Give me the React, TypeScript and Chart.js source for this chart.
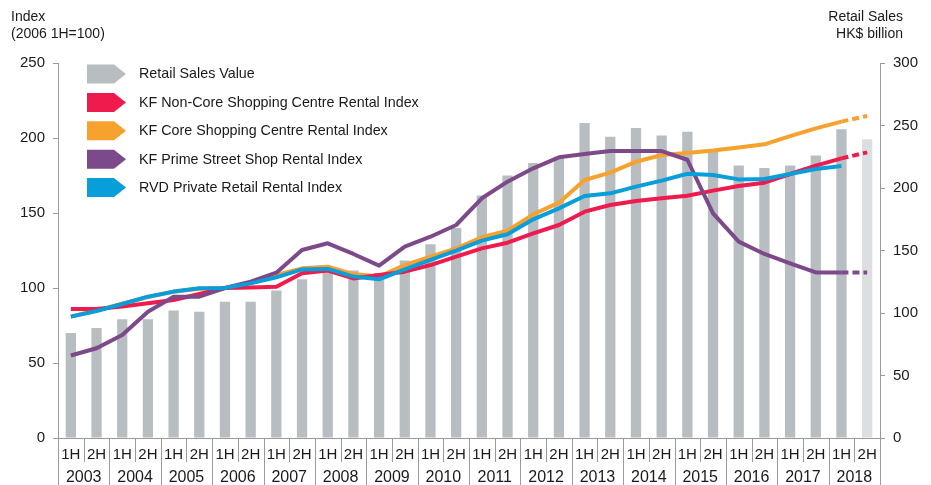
import React, { useEffect, useRef } from 'react';
import { Chart, registerables } from 'chart.js';

Chart.register(...registerables);

const years = ['2003', '2004', '2005', '2006', '2007', '2008', '2009', '2010', '2011', '2012', '2013', '2014', '2015', '2016', '2017', '2018'];
const halves = ['1H', '2H'];
const categories = years.flatMap((y) => halves.map((h) => `${y} ${h}`));

// Retail sales value, HK$ billion (right axis)
const retailSales = [84, 88, 95, 95, 102, 101, 109, 109, 118, 127, 137, 134, 132, 142, 155, 168, 194, 210, 220, 225, 252, 241, 248, 242, 245, 229, 218, 216, 218, 226, 247, 239];
// Indexes, 2006 1H = 100 (left axis)
const nonCoreIndex = [86, 86, 87.6, 89.8, 92, 96, 100, 100.3, 100.9, 109.8, 111.6, 106.4, 108.7, 110.9, 115.3, 120.9, 126.4, 130.2, 136.4, 142, 150.9, 155.3, 158, 159.8, 161.5, 164.9, 168, 170.2, 176, 181.6, 186.4, 190.4];
const coreIndex = [81, 85, 89.5, 94, 97.5, 99.5, 100, 103.5, 108.7, 113.1, 114.2, 109.3, 107.6, 115.3, 120.9, 126.4, 133.8, 138.2, 149.1, 156.9, 172, 176.9, 184.2, 188.7, 190, 191.6, 193.6, 195.8, 201.3, 206.4, 210.9, 214.7];
const primeStreetIndex = [55, 59.8, 68.7, 84.2, 94.2, 94.2, 100, 104.2, 110.2, 125.3, 129.8, 122.7, 114.9, 127.6, 134.2, 142, 159.8, 170.9, 179.8, 187.1, 189.3, 191.3, 191.3, 191.3, 185.5, 149.8, 130.9, 122.7, 116.4, 110.4, 110.4, 110.4];
const rvdIndex = [80.9, 84.7, 89.3, 94.2, 97.6, 99.8, 100, 103.1, 107.1, 112.4, 112.7, 107.6, 105.8, 112.4, 118.7, 124.9, 131.6, 135.8, 145.8, 153.1, 161.3, 163.1, 167.6, 171.6, 176.2, 175.3, 172.4, 172.7, 176, 179.3, 181.3, null];

const leftTicks = [0, 50, 100, 150, 200, 250];
const rightTicks = [0, 50, 100, 150, 200, 250, 300];

const FONT = "'Liberation Sans', Arial, Helvetica, sans-serif";
const TEXT = '#1a1a1a';
const AXIS = '#9a9a9a';
const BAR = '#b7bdc0';
const BAR_FORECAST = '#dcdfe1';
const RED = '#ee1b4c';
const ORANGE = '#f7a12e';
const PURPLE = '#7c4a8b';
const BLUE = '#079ed9';

const lastIdx = categories.length - 1;
const dashLast = (ctx: any) => (ctx.p1DataIndex === lastIdx ? [7, 4] : undefined);

const legendPlugin = {
  id: 'arrowLegend',
  afterDraw(chart: any) {
    const { ctx, chartArea } = chart;
    const x0 = chartArea.left + 29;
    const y0 = chartArea.top + 11;
    const step = 28.4;
    ctx.save();
    chart.data.datasets.forEach((ds: any, row: number) => {
      const cy = y0 + row * step;
      ctx.fillStyle = ds.legendColor;
      ctx.beginPath();
      ctx.moveTo(x0, cy - 9.5);
      ctx.lineTo(x0 + 27, cy - 9.5);
      ctx.lineTo(x0 + 39, cy);
      ctx.lineTo(x0 + 27, cy + 9.5);
      ctx.lineTo(x0, cy + 9.5);
      ctx.closePath();
      ctx.fill();
      ctx.fillStyle = TEXT;
      ctx.font = `14.3px ${FONT}`;
      ctx.textAlign = 'left';
      ctx.textBaseline = 'middle';
      ctx.fillText(ds.label, x0 + 52, cy + 0.5);
    });
    ctx.restore();
  },
};

const axisDecorPlugin = {
  id: 'axisDecor',
  afterDraw(chart: any) {
    const { ctx } = chart;
    const x = chart.scales.x;
    const top = x.top;
    const mid = top + 24;
    const bottom = chart.height;
    ctx.save();
    ctx.strokeStyle = AXIS;
    ctx.lineWidth = 1;
    for (let k = 0; k <= categories.length; k++) {
      const px = Math.round(x.getPixelForValue(k - 0.5)) + 0.5;
      ctx.beginPath();
      ctx.moveTo(px, top);
      ctx.lineTo(px, k % 2 === 0 ? bottom : mid);
      ctx.stroke();
    }
    ctx.fillStyle = TEXT;
    ctx.font = `16px ${FONT}`;
    ctx.textAlign = 'center';
    ctx.textBaseline = 'middle';
    years.forEach((y, j) => {
      ctx.fillText(y, x.getPixelForValue(2 * j + 0.5), mid + 16);
    });
    // axis titles
    ctx.font = `14px ${FONT}`;
    ctx.textBaseline = 'alphabetic';
    ctx.textAlign = 'left';
    ctx.fillText('Index', 11, 21);
    ctx.fillText('(2006 1H=100)', 11, 38);
    ctx.textAlign = 'right';
    ctx.fillText('Retail Sales', 903, 21);
    ctx.fillText('HK$ billion', 903, 38);
    ctx.restore();
  },
};

export default function App() {
  const ref = useRef<HTMLCanvasElement | null>(null);

  useEffect(() => {
    if (!ref.current) return;
    const lineBase = {
      type: 'line' as const,
      yAxisID: 'y',
      borderWidth: 4,
      pointRadius: 0,
      pointHoverRadius: 0,
      tension: 0,
      fill: false,
      spanGaps: false,
      borderCapStyle: 'butt' as const,
      borderJoinStyle: 'round' as const,
      segment: { borderDash: dashLast },
    };
    const chart = new Chart(ref.current, {
      data: {
        labels: categories,
        datasets: [
          {
            type: 'bar',
            label: 'Retail Sales Value',
            data: retailSales,
            yAxisID: 'y1',
            backgroundColor: retailSales.map((_, i) => (i === lastIdx ? BAR_FORECAST : BAR)),
            barPercentage: 0.4,
            categoryPercentage: 1,
            order: 10,
            legendColor: BAR,
          } as any,
          { ...lineBase, label: 'KF Non-Core Shopping Centre Rental Index', data: nonCoreIndex, borderColor: RED, order: 3, legendColor: RED } as any,
          { ...lineBase, label: 'KF Core Shopping Centre Rental Index', data: coreIndex, borderColor: ORANGE, order: 4, legendColor: ORANGE } as any,
          { ...lineBase, label: 'KF Prime Street Shop Rental Index', data: primeStreetIndex, borderColor: PURPLE, order: 2, legendColor: PURPLE } as any,
          { ...lineBase, label: 'RVD Private Retail Rental Index', data: rvdIndex, borderColor: BLUE, order: 1, legendColor: BLUE } as any,
        ],
      },
      options: {
        animation: false,
        responsive: true,
        maintainAspectRatio: false,
        layout: { padding: { top: 63, left: 0, right: 0, bottom: 0 } },
        plugins: {
          legend: { display: false },
          tooltip: { enabled: false },
        },
        scales: {
          x: {
            type: 'category',
            offset: true,
            grid: { display: false, drawTicks: false },
            border: { display: true, color: AXIS, width: 1 },
            ticks: {
              autoSkip: false,
              maxRotation: 0,
              padding: 8,
              color: TEXT,
              font: { family: FONT, size: 15 },
              callback: (_v: any, i: number) => categories[i].split(' ')[1],
            },
            afterFit: (s: any) => {
              s.height = 47;
            },
          },
          y: {
            type: 'linear',
            position: 'left',
            min: 0,
            max: 250,
            afterBuildTicks: (s: any) => {
              s.ticks = leftTicks.map((v) => ({ value: v }));
            },
            grid: { drawOnChartArea: false, drawTicks: true, tickLength: 5, color: AXIS },
            border: { display: true, color: AXIS, width: 1 },
            ticks: { padding: 8, color: TEXT, font: { family: FONT, size: 15 } },
            afterFit: (s: any) => {
              s.width = 58;
            },
          },
          y1: {
            type: 'linear',
            position: 'right',
            min: 0,
            max: 300,
            afterBuildTicks: (s: any) => {
              s.ticks = rightTicks.map((v) => ({ value: v }));
            },
            grid: { drawOnChartArea: false, drawTicks: true, tickLength: 5, color: AXIS },
            border: { display: true, color: AXIS, width: 1 },
            ticks: { padding: 8, color: TEXT, font: { family: FONT, size: 15 } },
            afterFit: (s: any) => {
              s.width = 51;
            },
          },
        },
      } as any,
      plugins: [legendPlugin, axisDecorPlugin],
    });
    return () => chart.destroy();
  }, []);

  return (
    <div style={{ position: 'absolute', left: 0, top: 0, width: 931, height: 485, background: '#fff' }}>
      <canvas ref={ref} />
    </div>
  );
}
